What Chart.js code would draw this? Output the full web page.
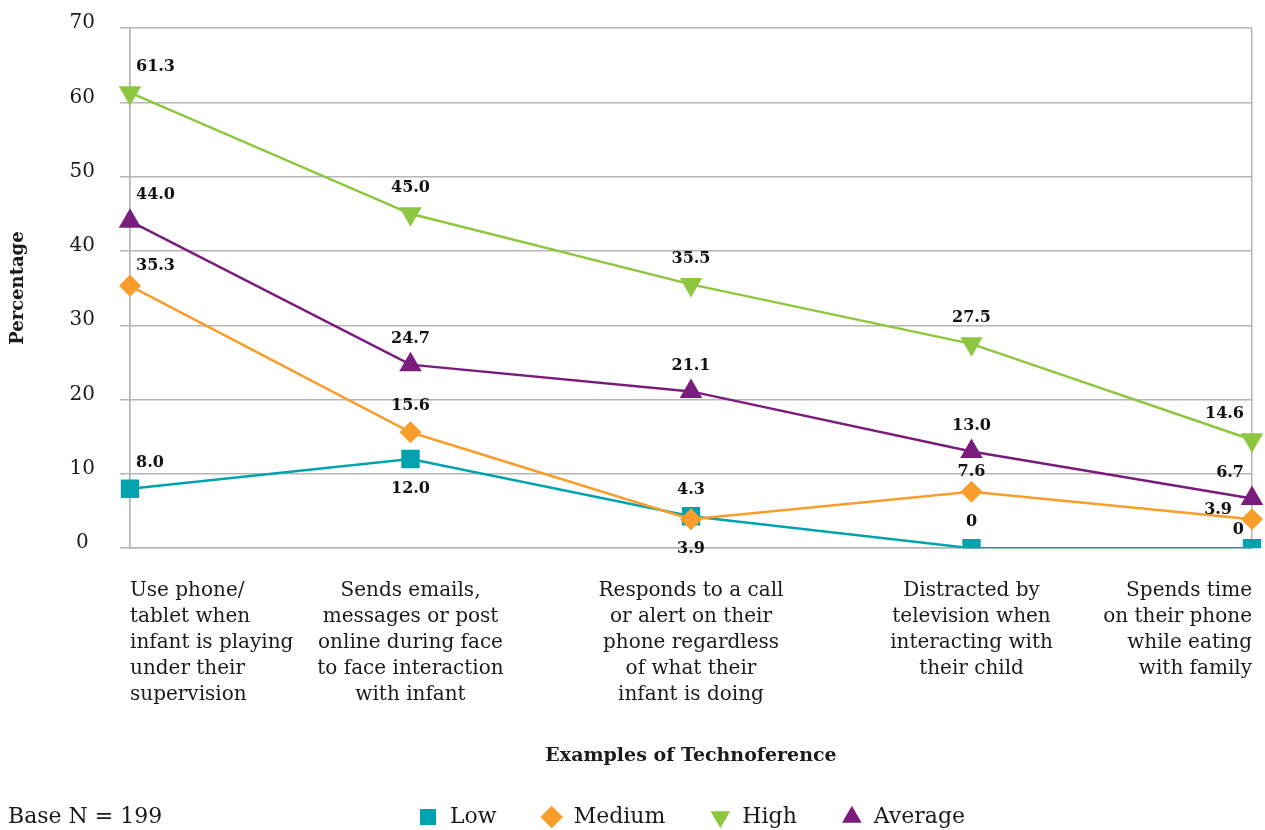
<!DOCTYPE html>
<html lang="en">
<head>
<meta charset="UTF-8">
<title>Technoference</title>
<script src="https://cdn.jsdelivr.net/npm/chart.js"></script>
<style>
  html, body { margin: 0; padding: 0; background: #fff; }
  #wrap { width: 1265px; height: 830px; }
</style>
</head>
<body>
<div id="wrap"><canvas id="myChart"></canvas></div>
<script>
    // categories (x axis)
    const categorias = [
        ['Use phone/', 'tablet when', 'infant is playing', 'under their', 'supervision'],
        ['Sends emails,', 'messages or post', 'online during face', 'to face interaction', 'with infant'],
        ['Responds to a call', 'or alert on their', 'phone regardless', 'of what their', 'infant is doing'],
        ['Distracted by', 'television when', 'interacting with', 'their child'],
        ['Spends time', 'on their phone', 'while eating', 'with family']
    ];

    // series values (%)
    const low     = [8.0, 12.0, 4.3, 0, 0];
    const medium  = [35.3, 15.6, 3.9, 7.6, 3.9];
    const high    = [61.3, 45.0, 35.5, 27.5, 14.6];
    const average = [44.0, 24.7, 21.1, 13.0, 6.7];

    // y ticks
    const yMin = 0, yMax = 70, yStep = 10;

    const cinza = '#b5b5b5';
    const fonte = 'DejaVu Serif';

    Chart.defaults.font.family = fonte;
    Chart.defaults.color = '#1a1a1a';

    // label placement tweaks: key = datasetIndex:pointIndex
    const ajusteRotulos = {
        '0:1': { below: true },
        '1:2': { below: true },
        '1:4': { dy: 1, dx: -20 },
        '1:0': { dy: 12 },
        '0:4': { dy: 10 },
        '1:3': { dy: 12 }
    };

    const rotulosPlugin = {
        id: 'rotulos',
        afterDatasetsDraw(chart) {
            const ctx = chart.ctx;
            ctx.save();
            ctx.font = 'bold 16px "' + fonte + '"';
            ctx.fillStyle = '#111';
            chart.data.datasets.forEach(function (ds, di) {
                const meta = chart.getDatasetMeta(di);
                meta.data.forEach(function (pt, i) {
                    const v = ds.data[i];
                    const txt = v === 0 ? '0' : v.toFixed(1);
                    const aj = ajusteRotulos[di + ':' + i] || {};
                    let x = pt.x, y;
                    if (aj.below) {
                        ctx.textBaseline = 'top';
                        y = pt.y + 22;
                    } else {
                        ctx.textBaseline = 'bottom';
                        y = pt.y - (aj.dy !== undefined ? aj.dy : 18);
                    }
                    if (i === 0) {
                        ctx.textAlign = 'left';
                        x += 6;
                    } else if (i === ds.data.length - 1) {
                        ctx.textAlign = 'right';
                        x += (aj.dx !== undefined ? aj.dx : -8);
                    } else {
                        ctx.textAlign = 'center';
                    }
                    ctx.fillText(txt, x, y);
                });
            });
            ctx.restore();
        },
        afterDraw(chart) {
            const ctx = chart.ctx;
            const lg = chart.legend;
            ctx.save();
            ctx.font = '22px "' + fonte + '"';
            ctx.fillStyle = '#1a1a1a';
            ctx.textAlign = 'left';
            ctx.textBaseline = 'middle';
            ctx.fillText('Base N = 199', 8, lg.top + lg.height / 2 + 17);
            ctx.restore();
        }
    };

    function serie(label, dados, cor, estilo, raio, rot, ordem) {
        return {
            label: label,
            data: dados,
            borderColor: cor,
            backgroundColor: cor,
            borderWidth: 2.5,
            pointStyle: estilo,
            pointRadius: raio,
            pointHoverRadius: raio,
            pointRotation: rot,
            rotation: rot,
            pointBorderWidth: 0,
            tension: 0,
            order: ordem
        };
    }

    const config = {
        type: 'line',
        data: {
            labels: categorias,
            datasets: [
                serie('Low', low, '#00a3ad', 'rect', 13, 0, 4),
                serie('Medium', medium, '#f99d2a', 'rectRot', 11, 0, 3),
                serie('High', high, '#8dc63f', 'triangle', 13, 180, 2),
                serie('Average', average, '#7a1c7c', 'triangle', 13, 0, 1)
            ]
        },
        options: {
            responsive: true,
            maintainAspectRatio: false,
            animation: false,
            layout: { padding: { top: 28, right: 13, left: 0, bottom: -8 } },
            plugins: {
                tooltip: { enabled: false },
                legend: {
                    position: 'bottom',
                    fullSize: false,
                    labels: {
                        usePointStyle: true,
                        boxHeight: 16,
                        padding: 44,
                        font: { size: 22 },
                        color: '#1a1a1a',
                        sort: function (a, b) { return a.datasetIndex - b.datasetIndex; }
                    }
                }
            },
            scales: {
                x: {
                    offset: false,
                    afterFit: function (s) { s.paddingLeft = 0; s.paddingRight = 0; },
                    grid: {
                        drawTicks: false,
                        lineWidth: 1.5,
                        color: function (c) {
                            return (c.index === 0 || c.index === categorias.length - 1) ? cinza : 'rgba(0,0,0,0)';
                        }
                    },
                    border: { display: true, color: cinza, width: 1.5 },
                    ticks: {
                        align: 'inner',
                        padding: 30,
                        maxRotation: 0,
                        autoSkip: false,
                        font: { size: 20, lineHeight: 1.3 },
                        color: '#1a1a1a'
                    },
                    title: {
                        display: true,
                        text: 'Examples of Technoference',
                        font: { size: 19, weight: 'bold' },
                        padding: { top: 6, bottom: -5 },
                        color: '#1a1a1a'
                    }
                },
                y: {
                    min: yMin,
                    max: yMax,
                    afterFit: function (s) { s.width = 130; s.paddingTop = 0; s.paddingBottom = 0; },
                    grid: { color: cinza, lineWidth: 1.5, tickLength: 10 },
                    border: { display: true, color: cinza, width: 1.5 },
                    ticks: {
                        stepSize: yStep,
                        crossAlign: 'center',
                        padding: 25,
                        labelOffset: -5,
                        font: { size: 20 },
                        color: '#1a1a1a'
                    },
                    title: {
                        display: true,
                        text: 'Percentage',
                        font: { size: 18, weight: 'bold' },
                        padding: { top: 8, bottom: 4 },
                        color: '#1a1a1a'
                    }
                }
            }
        },
        plugins: [rotulosPlugin]
    };

    new Chart('myChart', config);
</script>
</body>
</html>
